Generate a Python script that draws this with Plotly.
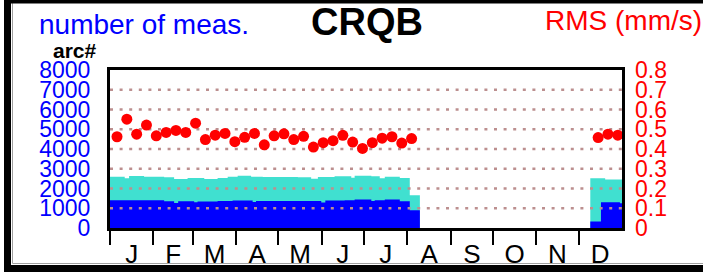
import plotly.graph_objects as go

# ---------------- data ----------------
month_labels = ["J", "F", "M", "A", "M", "J", "J", "A", "S", "O", "N", "D"]
month_start_days = [0, 31, 59, 90, 120, 151, 181, 212, 243, 273, 304, 334]
month_mid_days = [15.5, 45, 74.5, 105, 135.5, 166, 196.5, 227.5, 258, 288.5, 319, 349.5]

count_ticks = [0, 1000, 2000, 3000, 4000, 5000, 6000, 7000, 8000]
count_tick_labels = ["0", "1000", "2000", "3000", "4000", "5000", "6000", "7000", "8000"]
rms_ticks = [0, 0.1, 0.2, 0.3, 0.4, 0.5, 0.6, 0.7, 0.8]
rms_tick_labels = ["0", "0.1", "0.2", "0.3", "0.4", "0.5", "0.6", "0.7", "0.8"]

# number of measurements (turquoise), step segments: edges (day of year) and counts
turq_edges = [0, 10.5, 13.6, 24.3, 38.6, 45.7, 55.3, 67.2, 76.7, 83.9,
              91, 100.6, 108.9, 133.9, 143.4, 148.2, 160.1, 172, 174.4, 186.3,
              192.3, 195.9, 206.6, 213.7, 220.9, 342.4, 353, 365]
turq_counts = [2600, 2515, 2633, 2600, 2566, 2482, 2532, 2482, 2532, 2600,
               2650, 2600, 2583, 2566, 2498, 2583, 2616, 2549, 2650, 2616,
               2515, 2600, 2532, 1657, 0, 2515, 2450]

# arcs (blue), step segments
blue_edges = [0, 38.6, 45.7, 48.6, 60, 62.4, 76.7, 87.4, 101.7, 104.1,
              150.6, 153.5, 167.3, 174.4, 186.3, 188.7, 195.9, 206.6, 213.7, 220.9,
              342.4, 350, 363.5, 365]
blue_counts = [1405, 1355, 1270, 1355, 1304, 1338, 1371, 1388, 1321, 1371,
               1288, 1388, 1405, 1438, 1371, 1405, 1438, 1355, 900, 0,
               330, 1300, 1250]

# weekly RMS (mm/s)
rms_days = [5, 12, 19, 26, 33, 40, 47, 54, 61, 68, 75, 82, 89, 96, 103, 110,
            117, 124, 131, 138, 145, 152, 159, 166, 173, 180, 187, 194, 201, 208, 215,
            348, 355, 362]
rms_values = [0.462, 0.551, 0.475, 0.521, 0.467, 0.484, 0.494, 0.484, 0.531, 0.448,
              0.470, 0.479, 0.437, 0.459, 0.479, 0.421,
              0.467, 0.477, 0.448, 0.464, 0.410, 0.432, 0.442, 0.469, 0.435, 0.403,
              0.432, 0.455, 0.462, 0.430, 0.453,
              0.458, 0.475, 0.470]

# ---------------- layout geometry ----------------
W, H = 703, 272
L, R, T, B = 110, 81, 70, 44
PW, PH = W - L - R, H - T - B


def px2x(px):
    return (px - L) / PW


def py2y(py):
    return (H - B - py) / PH


FONT = "Liberation Sans, Arial, Helvetica, sans-serif"

fig = go.Figure()

fig.add_trace(go.Scatter(
    x=turq_edges, y=turq_counts + [turq_counts[-1]],
    mode="lines", line=dict(width=0, shape="hv"),
    fill="tozeroy", fillcolor="#40E0D0", hoverinfo="skip", yaxis="y"))

fig.add_trace(go.Scatter(
    x=blue_edges, y=blue_counts + [blue_counts[-1]],
    mode="lines", line=dict(width=0, shape="hv"),
    fill="tozeroy", fillcolor="#0000FF", hoverinfo="skip", yaxis="y"))

# dotted grid lines (drawn above the bars)
gx, gy = [], []
for v in count_ticks[1:-1]:
    gx += [0, 365, None]
    gy += [v, v, None]
fig.add_trace(go.Scatter(
    x=gx, y=gy, mode="lines",
    line=dict(color="#BC8F8F", width=2.5, dash="3px,6.6px"),
    hoverinfo="skip", yaxis="y"))

fig.add_trace(go.Scatter(
    x=rms_days, y=rms_values, mode="markers",
    marker=dict(color="#FF0000", size=11, line=dict(width=0)),
    yaxis="y2", hoverinfo="skip"))

fig.update_layout(
    width=W, height=H,
    margin=dict(l=L, r=R, t=T, b=B, pad=0, autoexpand=False),
    paper_bgcolor="white", plot_bgcolor="white",
    showlegend=False,
    font=dict(family=FONT),
    xaxis=dict(
        range=[0, 365], showgrid=False, zeroline=False, automargin=False,
        showline=True, mirror=True, linecolor="black", linewidth=3,
        tickmode="array", tickvals=month_mid_days, ticktext=month_labels,
        ticks="", ticklabelstandoff=1,
        tickfont=dict(size=26, color="black", family=FONT),
        minor=dict(tickmode="array", tickvals=month_start_days, ticks="outside",
                   ticklen=14, tickwidth=2, tickcolor="black", showgrid=False),
    ),
    yaxis=dict(
        range=[0, 8000], showgrid=False, zeroline=False, automargin=False,
        showline=True, mirror=True, linecolor="black", linewidth=3,
        tickmode="array", tickvals=count_ticks, ticktext=count_tick_labels,
        ticks="", ticklabelstandoff=12,
        tickfont=dict(size=23, color="#0000FF", family=FONT),
    ),
    yaxis2=dict(
        range=[0, 0.8], overlaying="y", side="right", automargin=False,
        showgrid=False, zeroline=False, showline=False,
        tickmode="array", tickvals=rms_ticks, ticktext=rms_tick_labels,
        ticks="", ticklabelstandoff=12,
        tickfont=dict(size=23, color="#FF0000", family=FONT),
    ),
)

annotations = [
    dict(text="number of meas.", x=px2x(37), y=py2y(24.5), xanchor="left", yanchor="middle",
         font=dict(size=28, color="#0000FF", family=FONT)),
    dict(text="<b>CRQB</b>", x=px2x(366.5), y=py2y(22), xanchor="center", yanchor="middle",
         font=dict(size=38, color="black", family=FONT)),
    dict(text="RMS (mm/s)", x=px2x(543), y=py2y(21), xanchor="left", yanchor="middle",
         font=dict(size=28, color="#FF0000", family=FONT)),
    dict(text="<b>arc#</b>", x=px2x(75), y=py2y(50), xanchor="center", yanchor="middle",
         font=dict(size=21, color="black", family=FONT)),
]
for a in annotations:
    a.update(xref="paper", yref="paper", showarrow=False)
fig.update_layout(annotations=annotations)

# outer frame
fig.add_shape(type="rect", xref="paper", yref="paper",
              x0=px2x(12.5), x1=px2x(720), y0=py2y(263.5), y1=py2y(-10),
              line=dict(color="#A0A0A0", width=1), layer="above")
fig.add_shape(type="rect", xref="paper", yref="paper",
              x0=px2x(7.5), x1=px2x(712), y0=py2y(268.5), y1=py2y(0),
              line=dict(color="black", width=7), layer="above")

fig.write_html("out.html",
               config={"displayModeBar": False, "staticPlot": True},
               post_script="document.body.style.margin='0';document.body.style.overflow='hidden';")
